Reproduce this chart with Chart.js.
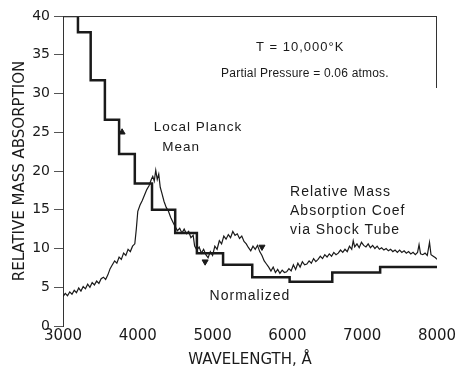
<!DOCTYPE html>
<html>
<head>
<meta charset="utf-8">
<script src="https://cdn.jsdelivr.net/npm/chart.js@4.4.1/dist/chart.umd.min.js"></script>
<style>
  html, body { margin: 0; padding: 0; background: #fff; }
  #wrap { width: 460px; height: 371px; }
</style>
</head>
<body>
<div id="wrap"><canvas id="chart"></canvas></div>
<script>
// Local Planck mean (normalized) - step starts and values
const stepWl = [3000, 3200, 3370, 3560, 3750, 3960, 4190, 4500, 4790, 5140, 5530, 6030, 6600, 7240, 8000];
const stepVal = [40, 37.9, 31.7, 26.6, 22.2, 18.4, 15.0, 12.0, 9.4, 7.9, 6.3, 5.7, 6.9, 7.6, 7.6];

// Relative mass absorption coef via shock tube
const shockWl = [
  3000, 3030, 3060, 3090, 3120, 3150, 3180, 3210, 3240, 3270, 3300, 3330, 3360, 3390, 3420, 3450, 3480, 3510, 3540, 3570,
  3600, 3630, 3660, 3690, 3720, 3750, 3780, 3810, 3840, 3870, 3900, 3930, 3960, 3980, 4000, 4030, 4060, 4090, 4120, 4150,
  4180, 4200, 4220, 4240, 4260, 4280, 4300, 4320, 4350, 4380, 4410, 4440, 4470, 4500, 4530, 4560, 4590, 4620, 4650, 4680,
  4710, 4740, 4760, 4790, 4820, 4850, 4880, 4910, 4940, 4970, 5000, 5030, 5060, 5090, 5120, 5150, 5180, 5210, 5240, 5270,
  5300, 5330, 5360, 5390, 5420, 5450, 5480, 5510, 5540, 5570, 5600, 5630, 5660, 5690, 5720, 5750, 5780, 5810, 5840, 5870,
  5900, 5930, 5960, 5990, 6020, 6050, 6080, 6110, 6140, 6170, 6200, 6230, 6260, 6290, 6320, 6350, 6380, 6410, 6440, 6470,
  6500, 6530, 6560, 6590, 6620, 6650, 6680, 6710, 6740, 6770, 6800, 6830, 6860, 6880, 6900, 6930, 6960, 6990, 7020, 7050,
  7080, 7110, 7140, 7170, 7200, 7230, 7260, 7290, 7320, 7350, 7380, 7410, 7440, 7470, 7500, 7530, 7560, 7590, 7620, 7650,
  7680, 7710, 7740, 7760, 7780, 7810, 7840, 7870, 7900, 7920, 7950, 7980, 8000
];
const shockVal = [
  3.8, 4.2, 3.9, 4.4, 4.1, 4.6, 4.3, 4.9, 4.5, 5.1, 4.8, 5.4, 5.0, 5.6, 5.3, 5.8, 5.5, 6.1, 6.3, 6.0,
  6.6, 7.4, 7.9, 8.4, 8.1, 8.9, 8.6, 9.4, 9.1, 9.9, 9.6, 10.3, 10.6, 12.5, 14.8, 15.6, 16.2, 16.9, 17.6, 18.1,
  18.9, 19.3, 18.7, 20.1, 18.9, 19.6, 17.9, 17.2, 16.1, 15.3, 14.8, 14.0, 13.4, 12.8, 12.3, 12.6, 12.0, 12.5, 11.9, 12.2,
  11.4, 11.7, 10.3, 9.8, 10.2, 9.4, 9.9, 9.2, 8.8, 9.6, 9.1, 10.3, 9.9, 11.0, 10.6, 11.6, 11.2, 11.8, 11.4, 12.2,
  11.7, 11.9, 11.3, 11.6, 10.9, 10.6, 10.1, 9.7, 10.3, 9.9, 10.4, 9.6, 9.1, 8.4, 8.0, 7.6, 7.1, 7.6, 6.9, 7.3,
  6.8, 7.2, 6.9, 7.0, 7.4, 7.1, 7.9, 7.3, 8.1, 7.6, 8.3, 7.9, 8.0, 8.4, 8.1, 8.7, 8.3, 8.6, 9.0, 8.7,
  9.2, 8.9, 9.3, 9.0, 9.5, 9.2, 9.4, 9.8, 9.5, 9.9, 9.6, 10.3, 9.9, 11.0, 10.2, 10.6, 10.1, 10.8, 10.4, 10.2,
  10.6, 10.1, 10.4, 10.0, 10.3, 9.9, 10.1, 9.8, 10.0, 9.7, 9.9, 9.6, 9.8, 9.5, 9.8, 9.5, 9.7, 9.4, 9.6, 9.3,
  9.5, 9.2, 9.5, 10.5, 9.3, 9.2, 9.4, 9.1, 10.8, 9.2, 9.0, 8.8, 8.6
];

// small triangle marks on the plot
const markWl = [3790, 4900, 5660];
const markVal = [25.0, 8.3, 10.2];
const markRot = [0, 180, 180];

// axis ticks
const xTicks = [3000, 4000, 5000, 6000, 7000, 8000];
const yTicks = [0, 5, 10, 15, 20, 25, 30, 35, 40];

const ink = "#1a1a1a";

const stepData = stepWl.map((w, i) => ({ x: w, y: stepVal[i] }));
const shockData = shockWl.map((w, i) => ({ x: w, y: shockVal[i] }));
const markData = markWl.map((w, i) => ({ x: w, y: markVal[i] }));

// text labels placed in data space
const notes = [
  { text: "T = 10,000°K", x: 6170, y: 36.0, font: "13px 'Liberation Sans'", align: "center", sp: "1px" },
  { text: "Partial Pressure = 0.06 atmos.", x: 6235, y: 32.6, font: "12px 'Liberation Sans'", align: "center", sp: "0.2px" },
  { text: "Local Planck", x: 4805, y: 25.6, font: "13.5px 'Liberation Sans'", align: "center", sp: "1px" },
  { text: "Mean", x: 4578, y: 23.0, font: "13.5px 'Liberation Sans'", align: "center", sp: "1px" },
  { text: "Relative Mass", x: 6035, y: 17.3, font: "14px 'Liberation Sans'", align: "left", sp: "1px" },
  { text: "Absorption Coef", x: 6035, y: 14.8, font: "14px 'Liberation Sans'", align: "left", sp: "1px" },
  { text: "via Shock Tube", x: 6035, y: 12.4, font: "14px 'Liberation Sans'", align: "left", sp: "1px" },
  { text: "Normalized", x: 5500, y: 3.9, font: "14px 'Liberation Sans'", align: "center", sp: "1px" }
];

const framePlugin = {
  id: "frame",
  afterDatasetsDraw(chart) {
    const { ctx, chartArea } = chart;
    ctx.save();
    ctx.strokeStyle = "#333";
    ctx.lineWidth = 1;
    ctx.beginPath();
    ctx.moveTo(chartArea.left, chartArea.top + 0.5);
    ctx.lineTo(chartArea.right, chartArea.top + 0.5);
    ctx.moveTo(chartArea.right - 0.5, chartArea.top);
    ctx.lineTo(chartArea.right - 0.5, chartArea.top + 72);
    ctx.stroke();
    ctx.fillStyle = ink;
    ctx.textBaseline = "middle";
    const xs = chart.scales.x, ys = chart.scales.y;
    notes.forEach(n => {
      ctx.font = n.font;
      ctx.textAlign = n.align;
      ctx.letterSpacing = n.sp;
      ctx.fillText(n.text, xs.getPixelForValue(n.x), ys.getPixelForValue(n.y));
    });
    ctx.restore();
  }
};

new Chart(document.getElementById("chart"), {
  type: "line",
  data: {
    datasets: [
      {
        label: "Local Planck Mean",
        data: stepData,
        stepped: "before",
        borderColor: ink,
        borderWidth: 2.5,
        pointRadius: 0,
        fill: false
      },
      {
        label: "Shock Tube",
        data: shockData,
        borderColor: ink,
        borderWidth: 1.2,
        pointRadius: 0,
        tension: 0,
        fill: false
      },
      {
        type: "scatter",
        label: "marks",
        data: markData,
        pointStyle: "triangle",
        pointRadius: 3.5,
        pointRotation: markRot,
        backgroundColor: ink,
        borderColor: ink
      }
    ]
  },
  options: {
    responsive: true,
    maintainAspectRatio: false,
    animation: false,
    layout: { padding: { left: 0, right: 23, top: 16, bottom: 0 } },
    plugins: {
      legend: { display: false },
      tooltip: { enabled: false }
    },
    scales: {
      x: {
        type: "linear",
        min: 3000,
        max: 8000,
        afterBuildTicks: axis => { axis.ticks = xTicks.map(v => ({ value: v })); },
        afterFit: axis => { axis.height = 45; },
        grid: { display: false },
        border: { display: false },
        ticks: {
          color: ink,
          padding: -7,
          callback: v => String(v),
          font: { family: "DejaVu Sans", size: 15 }
        },
        title: {
          display: true,
          text: "WAVELENGTH, Å",
          color: ink,
          padding: { top: 0, bottom: 2 },
          font: { family: "DejaVu Sans", size: 15 }
        }
      },
      y: {
        min: 0,
        max: 40,
        afterBuildTicks: axis => { axis.ticks = yTicks.map(v => ({ value: v })); },
        afterFit: axis => { axis.width = 63; },
        grid: {
          drawOnChartArea: false,
          tickLength: 9,
          color: "#555",
          lineWidth: 1
        },
        border: { display: true, color: "#333", width: 1 },
        ticks: {
          color: ink,
          padding: 4,
          font: { family: "DejaVu Sans", size: 14 }
        },
        title: {
          display: true,
          text: "RELATIVE MASS ABSORPTION",
          color: ink,
          padding: { top: 11, bottom: 0 },
          font: { family: "DejaVu Sans", size: 15 }
        }
      }
    }
  },
  plugins: [framePlugin]
});
</script>
</body>
</html>
